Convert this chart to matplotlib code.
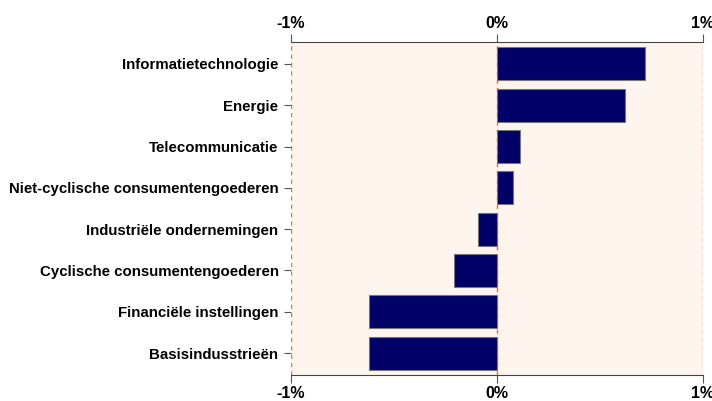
import matplotlib.pyplot as plt
from matplotlib.ticker import FuncFormatter

sectors = [
    "Informatietechnologie",
    "Energie",
    "Telecommunicatie",
    "Niet-cyclische consumentengoederen",
    "Industriële ondernemingen",
    "Cyclische consumentengoederen",
    "Financiële instellingen",
    "Basisindusstrieën",
]
values = [0.72, 0.62, 0.11, 0.08, -0.09, -0.21, -0.62, -0.62]

plt.rcParams['font.family'] = ['Liberation Sans', 'DejaVu Sans']

fig = plt.figure(figsize=(7.12, 4.01), dpi=100)
ax = fig.add_axes([291 / 712, 26 / 401, 412 / 712, 333 / 401])
ax.set_facecolor('#fff5ef')

pos = list(range(len(sectors)))[::-1]
ax.barh(pos, values, height=0.8, color='#000066', edgecolor='#777777',
        linewidth=0.8, zorder=2)

ax.set_xlim(-1, 1)
ax.set_ylim(-0.53, 7.53)
ax.set_xticks([-1, 0, 1])
ax.xaxis.set_major_formatter(FuncFormatter(lambda v, p: f"{v:.0f}%"))
ax.set_yticks(pos)
ax.set_yticklabels(sectors, fontweight='bold', fontsize=10.8)

ax.tick_params(axis='x', top=True, labeltop=True, bottom=True, labelbottom=True,
               length=6, color='#555555', labelsize=11.5, pad=2)
for lbl in ax.get_xticklabels():
    lbl.set_fontweight('bold')
ax.tick_params(axis='y', length=5, color='#555555', pad=4)

ax.grid(axis='x', color='#ff6a1a', linestyle=(0, (3, 3)), linewidth=1, zorder=1)
ax.set_axisbelow(True)
ax.spines['left'].set_visible(False)
ax.spines['right'].set_visible(False)
ax.spines['top'].set_color('#444444')
ax.spines['bottom'].set_color('#444444')

fig.savefig('out.png', dpi=100)
